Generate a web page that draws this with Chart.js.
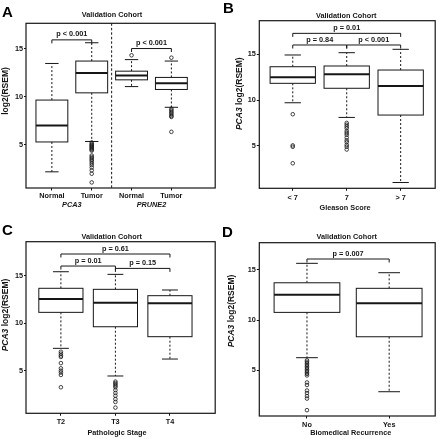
<!DOCTYPE html>
<html>
<head>
<meta charset="utf-8">
<script src="https://cdn.jsdelivr.net/npm/chart.js@4"></script>
<style>
  html, body { margin: 0; padding: 0; background: #fff; }
  #wrap { position: relative; width: 440px; height: 439px; }
  canvas { position: absolute; }
</style>
</head>
<body>
<div id="wrap">
  <canvas id="pa" width="220" height="220" style="left:0;top:0"></canvas>
  <canvas id="pb" width="220" height="220" style="left:220px;top:0"></canvas>
  <canvas id="pc" width="220" height="219" style="left:0;top:220px"></canvas>
  <canvas id="pd" width="220" height="219" style="left:220px;top:220px"></canvas>
</div>
<script>
// shared
const yTicks = [5, 10, 15];

// Panel A: PCA3 / PRUNE2, normal vs tumor
const aLabels = ['Normal', 'Tumor', 'Normal', 'Tumor'];
const aGroups = ['PCA3', 'PRUNE2'];
const aGroupAt = [1.5, 3.5];
const aLow = [2.2, 5.35, 11.05, 8.9];
const aQ1 = [5.3, 10.4, 11.75, 10.75];
const aMed = [7.0, 12.45, 12.2, 11.4];
const aQ3 = [9.65, 13.7, 12.65, 12.0];
const aHigh = [13.45, 15.6, 13.85, 13.7];
const aOut = [
  [],
  [5.25, 5.1, 5.0, 4.9, 4.8, 4.7, 4.6, 4.5, 4.4, 3.9, 3.75, 3.6, 3.45, 3.3, 3.1, 2.9, 2.65, 2.35, 2.0, 1.1],
  [14.3],
  [14.05, 8.75, 8.6, 8.45, 8.3, 8.15, 8.0, 7.9, 6.35]
];
const aPText = ['p < 0.001', 'p < 0.001'];
const aPFrom = [1, 3];
const aPTo = [2, 4];
const aPLevel = [15.9, 15.0];

// Panel B: Gleason score
const bLabels = ['< 7', '7', '> 7'];
const bLow = [9.7, 8.1, 1.0];
const bQ1 = [11.82, 11.28, 8.36];
const bMed = [12.48, 12.8, 11.53];
const bQ3 = [13.63, 13.71, 13.27];
const bHigh = [14.91, 15.16, 15.53];
const bOut = [
  [8.45, 5.05, 4.9, 3.1],
  [7.5, 7.3, 7.1, 6.9, 6.6, 6.4, 6.2, 5.9, 5.6, 5.4, 5.1, 4.9, 4.6],
  []
];
const bPText = ['p = 0.01', 'p = 0.84', 'p < 0.001'];
const bPFrom = [1, 1, 2];
const bPTo = [3, 2, 3];
const bPLevel = [17.27, 16.0, 16.0];

// Panel C: pathologic stage
const cLabels = ['T2', 'T3', 'T4'];
const cLow = [7.36, 4.44, 6.23];
const cQ1 = [11.16, 9.64, 8.59];
const cMed = [12.57, 12.18, 12.11];
const cQ3 = [13.7, 13.59, 12.92];
const cHigh = [15.45, 15.17, 13.52];
const cOut = [
  [7.0, 6.8, 6.6, 6.45, 5.8, 5.25, 5.0, 4.8, 4.55, 3.25],
  [3.85, 3.7, 3.55, 3.4, 3.25, 2.95, 2.65, 2.35, 2.0, 1.7, 1.1],
  []
];
const cPText = ['p = 0.61', 'p = 0.01', 'p = 0.15'];
const cPFrom = [1, 1, 2];
const cPTo = [3, 2, 3];
const cPLevel = [17.32, 16.05, 15.8];

// Panel D: biochemical recurrence
const dLabels = ['No', 'Yes'];
const dLow = [6.26, 2.88];
const dQ1 = [10.76, 8.34];
const dMed = [12.51, 11.66];
const dQ3 = [13.7, 13.15];
const dHigh = [15.63, 14.7];
const dOut = [
  [6.0, 5.85, 5.7, 5.55, 5.4, 5.25, 5.1, 4.95, 4.8, 4.65, 4.5, 3.8, 3.55, 3.0, 2.75, 2.45, 2.2, 1.05],
  []
];
const dPText = ['p = 0.007'];
const dPFrom = [1];
const dPTo = [2];
const dPLevel = [16.06];

const FONT = '"Liberation Sans", Arial, Helvetica, sans-serif';
const INK = '#161616';
const SMALL = 7.3;

function font(size, italic) {
  return (italic ? 'italic ' : '') + 'bold ' + size + 'px ' + FONT;
}

// draws boxes, whiskers, brackets, frame and panel text using the chart scales
function boxPlugin(d, lay) {
  return {
    id: 'boxes',
    beforeDatasetsDraw(chart) {
      const { ctx, chartArea: ca, scales: { x, y } } = chart;
      const unit = x.getPixelForValue(2) - x.getPixelForValue(1);
      const hw = unit * lay.boxW / 2;
      const cw = hw * lay.cap;
      ctx.save();
      ctx.strokeStyle = INK;
      ctx.fillStyle = '#fff';

      // group separator
      (lay.sep || []).forEach(v => {
        const px = x.getPixelForValue(v);
        ctx.setLineDash([2.5, 2]);
        ctx.lineWidth = 1;
        ctx.beginPath();
        ctx.moveTo(px, ca.top);
        ctx.lineTo(px, ca.bottom);
        ctx.stroke();
      });

      d.med.forEach((m, i) => {
        const cx = x.getPixelForValue(i + 1);
        const yl = y.getPixelForValue(d.low[i]);
        const y1 = y.getPixelForValue(d.q1[i]);
        const ym = y.getPixelForValue(m);
        const y3 = y.getPixelForValue(d.q3[i]);
        const yh = y.getPixelForValue(d.high[i]);
        // whiskers
        ctx.setLineDash([2, 2]);
        ctx.lineWidth = 1;
        ctx.beginPath();
        ctx.moveTo(cx, y1); ctx.lineTo(cx, yl);
        ctx.moveTo(cx, y3); ctx.lineTo(cx, yh);
        ctx.stroke();
        ctx.setLineDash([]);
        ctx.beginPath();
        ctx.moveTo(cx - cw, yl); ctx.lineTo(cx + cw, yl);
        ctx.moveTo(cx - cw, yh); ctx.lineTo(cx + cw, yh);
        ctx.stroke();
        // box
        ctx.fillRect(cx - hw, y3, hw * 2, y1 - y3);
        ctx.strokeRect(cx - hw, y3, hw * 2, y1 - y3);
        // median
        ctx.lineWidth = 2;
        ctx.beginPath();
        ctx.moveTo(cx - hw, ym); ctx.lineTo(cx + hw, ym);
        ctx.stroke();
      });

      // p-value brackets
      ctx.lineWidth = 1;
      ctx.fillStyle = INK;
      ctx.font = font(SMALL);
      ctx.textAlign = 'center';
      ctx.textBaseline = 'middle';
      d.pText.forEach((t, i) => {
        const x1 = x.getPixelForValue(d.pFrom[i]);
        const x2 = x.getPixelForValue(d.pTo[i]);
        const yb = y.getPixelForValue(d.pLevel[i]);
        ctx.beginPath();
        ctx.moveTo(x1, yb + 3.5); ctx.lineTo(x1, yb);
        ctx.lineTo(x2, yb); ctx.lineTo(x2, yb + 3.5);
        ctx.stroke();
        ctx.fillText(t, (x1 + x2) / 2, yb - 5.5);
      });
      ctx.restore();
    },
    afterDraw(chart) {
      const { ctx, chartArea: ca, scales: { x } } = chart;
      ctx.save();
      ctx.strokeStyle = INK;
      ctx.lineWidth = 1.2;
      ctx.strokeRect(ca.left, ca.top, ca.right - ca.left, ca.bottom - ca.top);

      ctx.fillStyle = '#000';
      ctx.textAlign = 'left';
      ctx.textBaseline = 'alphabetic';
      ctx.font = font(15);
      ctx.fillText(lay.letter, lay.letterX, lay.letterY);

      ctx.textAlign = 'center';
      ctx.textBaseline = 'middle';
      ctx.fillStyle = INK;
      ctx.font = font(SMALL);
      ctx.fillText('Validation Cohort', lay.titleX, lay.titleY);

      if (lay.xTitle) ctx.fillText(lay.xTitle, lay.xTitleX, lay.xTitleY);

      (d.groups || []).forEach((g, i) => {
        ctx.font = font(SMALL, true);
        ctx.fillText(g, x.getPixelForValue(d.groupAt[i]), lay.groupY);
      });

      // rotated y title, gene name in italics
      ctx.translate(lay.yTitleX, lay.yTitleY);
      ctx.rotate(-Math.PI / 2);
      ctx.textAlign = 'left';
      const fs = lay.yTitleSize;
      ctx.font = font(fs, true);
      const wi = lay.yItalic ? ctx.measureText(lay.yItalic).width : 0;
      ctx.font = font(fs);
      const wr = ctx.measureText(lay.yTitle).width;
      let sx = -(wi + wr) / 2;
      if (lay.yItalic) {
        ctx.font = font(fs, true);
        ctx.fillText(lay.yItalic, sx, 0);
        sx += wi;
        ctx.font = font(fs);
      }
      ctx.fillText(lay.yTitle, sx, 0);
      ctx.restore();
    }
  };
}

function boxChart(id, d, lay) {
  const el = document.getElementById(id);
  const W = el.width, H = el.height;
  const pts = [];
  d.out.forEach((list, i) => list.forEach(v => pts.push({ x: i + 1, y: v })));
  const tickFont = { family: FONT, size: SMALL, weight: 'bold' };
  return new Chart(el, {
    type: 'scatter',
    data: {
      datasets: [{
        data: pts,
        pointStyle: 'circle',
        pointRadius: 1.8,
        pointBorderWidth: 0.8,
        pointBorderColor: INK,
        pointBackgroundColor: 'rgba(255,255,255,0)'
      }]
    },
    options: {
      responsive: false,
      animation: false,
      devicePixelRatio: 1,
      layout: { padding: { top: lay.top, right: W - lay.right, left: 0, bottom: 0 } },
      plugins: { legend: { display: false }, tooltip: { enabled: false } },
      scales: {
        x: {
          type: 'linear',
          min: lay.xMin,
          max: lay.xMax,
          afterFit: s => { s.height = H - lay.bottom; },
          afterBuildTicks: s => { s.ticks = d.labels.map((_, i) => ({ value: i + 1 })); },
          grid: { drawOnChartArea: false, drawTicks: true, tickLength: 2.5, color: INK },
          border: { display: false },
          ticks: {
            autoSkip: false, maxRotation: 0, minRotation: 0, padding: lay.xPad,
            color: INK, font: tickFont,
            callback: v => d.labels[v - 1]
          }
        },
        y: {
          type: 'linear',
          min: lay.yMin,
          max: lay.yMax,
          afterFit: s => { s.width = lay.left; },
          afterBuildTicks: s => { s.ticks = yTicks.map(v => ({ value: v })); },
          grid: { drawOnChartArea: false, drawTicks: true, tickLength: lay.yTick, color: INK },
          border: { display: false },
          ticks: { padding: 1, color: INK, font: tickFont }
        }
      }
    },
    plugins: [boxPlugin(d, lay)]
  });
}

boxChart('pa',
  { labels: aLabels, low: aLow, q1: aQ1, med: aMed, q3: aQ3, high: aHigh, out: aOut,
    pText: aPText, pFrom: aPFrom, pTo: aPTo, pLevel: aPLevel, groups: aGroups, groupAt: aGroupAt },
  { left: 26, top: 23.3, right: 216, bottom: 188, xMin: 0.35, xMax: 5.1, yMin: 0.52, yMax: 17.62,
    boxW: 0.8, cap: 0.42, yTick: 2, xPad: 1.1, sep: [2.5], groupY: 205,
    letter: 'A', letterX: 2, letterY: 17, titleX: 112, titleY: 14.8,
    yTitle: 'log2(RSEM)', yItalic: '', yTitleSize: 8.5, yTitleX: 5.8, yTitleY: 91 });

boxChart('pb',
  { labels: bLabels, low: bLow, q1: bQ1, med: bMed, q3: bQ3, high: bHigh, out: bOut,
    pText: bPText, pFrom: bPFrom, pTo: bPTo, pLevel: bPLevel },
  { left: 39.3, top: 20.7, right: 216, bottom: 188.3, xMin: 0.38, xMax: 3.64, yMin: 0.37, yMax: 18.65,
    boxW: 0.84, cap: 0.36, yTick: 2.5, xPad: 3.1,
    letter: 'B', letterX: 3, letterY: 13.3, titleX: 126.2, titleY: 15.5,
    xTitle: 'Gleason Score', xTitleX: 125, xTitleY: 208,
    yTitle: ' log2(RSEM)', yItalic: 'PCA3', yTitleSize: 8.5, yTitleX: 19.7, yTitleY: 93.7 });

boxChart('pc',
  { labels: cLabels, low: cLow, q1: cQ1, med: cMed, q3: cQ3, high: cHigh, out: cOut,
    pText: cPText, pFrom: cPFrom, pTo: cPTo, pLevel: cPLevel },
  { left: 26, top: 21.7, right: 216, bottom: 193.3, xMin: 0.36, xMax: 3.83, yMin: 0.5, yMax: 18.62,
    boxW: 0.81, cap: 0.36, yTick: 2, xPad: 1.5,
    letter: 'C', letterX: 2, letterY: 15, titleX: 111.7, titleY: 16.7,
    xTitle: 'Pathologic Stage', xTitleX: 117, xTitleY: 213,
    yTitle: ' log2(RSEM)', yItalic: 'PCA3', yTitleSize: 8.5, yTitleX: 5.8, yTitleY: 95 });

boxChart('pd',
  { labels: dLabels, low: dLow, q1: dQ1, med: dMed, q3: dQ3, high: dHigh, out: dOut,
    pText: dPText, pFrom: dPFrom, pTo: dPTo, pLevel: dPLevel },
  { left: 39.3, top: 22.7, right: 216, bottom: 196, xMin: 0.42, xMax: 2.56, yMin: 0.47, yMax: 17.68,
    boxW: 0.8, cap: 0.33, yTick: 2.5, xPad: 2.1,
    letter: 'D', letterX: 2, letterY: 16.7, titleX: 126.7, titleY: 16.7,
    xTitle: 'Biomedical Recurrence', xTitleX: 130.7, xTitleY: 213.3,
    yTitle: ' log2(RSEM)', yItalic: 'PCA3', yTitleSize: 8.5, yTitleX: 11.7, yTitleY: 91 });
</script>
</body>
</html>
